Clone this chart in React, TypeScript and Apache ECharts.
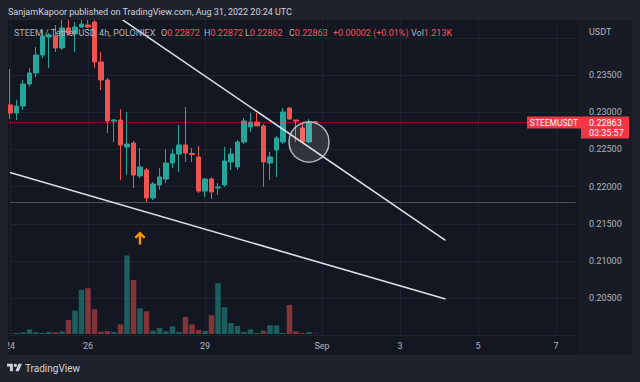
import React, { useEffect, useRef } from "react";
import * as echarts from "echarts";

// ---- data (4h candles, STEEM/USDT, from Aug 24 00:00) ----
const OPEN = [0.23097, 0.22989, 0.23083, 0.23379, 0.23527, 0.23769, 0.24011, 0.24024, 0.23863, 0.24132, 0.24051, 0.24145, 0.24172, 0.24212, 0.23675, 0.23433, 0.22882, 0.22895, 0.22532, 0.22586, 0.22143, 0.22223, 0.21847, 0.22022, 0.22102, 0.22317, 0.22438, 0.22559, 0.22445, 0.22398, 0.21941, 0.22102, 0.21981, 0.22022, 0.22331, 0.22264, 0.226, 0.22801, 0.22868, 0.22815, 0.22317, 0.22492, 0.226, 0.23057, 0.22895, 0.22788, 0.226, 0.22872];
const CLOSE = [0.22989, 0.23083, 0.23379, 0.23527, 0.23769, 0.24024, 0.24038, 0.23863, 0.24132, 0.24064, 0.24145, 0.24185, 0.24145, 0.23675, 0.23433, 0.22882, 0.22895, 0.22559, 0.22573, 0.22156, 0.22264, 0.21847, 0.22035, 0.22129, 0.22317, 0.22438, 0.22559, 0.22452, 0.22432, 0.21941, 0.22102, 0.21928, 0.21995, 0.22344, 0.22438, 0.226, 0.22882, 0.22868, 0.22815, 0.22331, 0.22398, 0.22653, 0.23003, 0.22909, 0.22882, 0.226, 0.22861, 0.22863];
const LOW = [0.22909, 0.22895, 0.2303, 0.23339, 0.23473, 0.23728, 0.23594, 0.23809, 0.23836, 0.24038, 0.23809, 0.24132, 0.24132, 0.23594, 0.23298, 0.2272, 0.226, 0.22089, 0.22156, 0.21981, 0.22116, 0.21793, 0.2182, 0.21954, 0.22049, 0.2225, 0.22196, 0.22331, 0.22331, 0.21914, 0.2186, 0.21833, 0.21887, 0.21995, 0.22223, 0.22223, 0.22573, 0.22734, 0.22815, 0.21995, 0.22089, 0.22129, 0.22573, 0.22895, 0.226, 0.22586, 0.22586, 0.22862];
const HIGH = [0.23581, 0.23164, 0.23433, 0.23594, 0.23876, 0.24105, 0.24064, 0.24172, 0.24239, 0.24239, 0.24212, 0.24239, 0.24239, 0.24239, 0.23809, 0.2346, 0.22909, 0.23043, 0.23003, 0.22613, 0.22519, 0.2225, 0.22062, 0.2225, 0.22506, 0.22506, 0.22828, 0.2307, 0.22519, 0.22546, 0.22116, 0.22129, 0.22049, 0.22532, 0.22519, 0.22626, 0.22922, 0.22989, 0.22989, 0.22841, 0.22465, 0.2268, 0.23057, 0.2307, 0.22895, 0.22855, 0.22909, 0.22872];
// volume in thousands
const VOLUME = [1, 3, 5, 14, 6, 3, 6, 5, 8, 42, 70, 132, 137, 74, 7, 9, 6, 29, 235, 162, 77, 68, 10, 18, 8, 23, 6, 51, 29, 12, 9, 56, 152, 80, 33, 24, 6, 14, 3, 10, 26, 26, 3, 87, 8, 3, 6, 1.213];

const SLOT_COUNT = 88; // 4h slots shown on the time axis (incl. future)
const TICK_INDEX = [0, 12, 30, 48, 60, 72, 84];
const TICK_TEXT = ["24", "26", "29", "Sep", "3", "5", "7"];

const SUPPORT_LEVEL = 0.21783;
// trend lines: [slot index, price]
const TREND_UPPER = [[17, 0.24262], [67, 0.21278]];
const TREND_LOWER = [[0, 0.2219], [67, 0.20488]];
const CIRCLE_AT = [46, 0.22599];
const ARROW_AT = [20, 0.21309];

const PRICE_TICKS_MIN = 0.195;
const PRICE_TICKS_MAX = 0.245;
const PRICE_STEP = 0.005;

const COUNTDOWN = "03:35:57";

const CATEGORIES: string[] = [];
{
  const start = Date.UTC(2022, 7, 24, 0, 0);
  for (let i = 0; i < SLOT_COUNT; i++) {
    const d = new Date(start + i * 4 * 3600 * 1000);
    CATEGORIES.push(d.toISOString().slice(0, 16));
  }
}

echarts.graphic.registerShape(
  "tvlogo",
  echarts.graphic.extendPath(
    "M14 22H7V11H0V4h14v18z M28 22h-8l7.5-18h8L28 22z M24 8a4 4 0 1 1-8 0a4 4 0 0 1 8 0z",
    {}
  )
);

const FONT = 'Roboto, "Noto Sans", "DejaVu Sans", sans-serif';
const GREEN = "#26a69a";
const RED = "#ef5350";
const LABEL_RED = "#f7525f";
const GRAY = "#b2b5be";
const FRAME = "#1e222d";
const PANE = "#131722";

export default function App() {
  const ref = useRef<HTMLDivElement>(null);
  useEffect(() => {
    document.body.style.margin = "0";
    if (!ref.current) return;
    const chart = echarts.init(ref.current, undefined, { renderer: "svg" });
    const n = OPEN.length;
    const last = n - 1;
    const change = CLOSE[last] - CLOSE[last - 1];
    const pct = (change / CLOSE[last - 1]) * 100;
    const sign = change >= 0 ? "+" : "";
    const candleData = OPEN.map((o, i) => [o, CLOSE[i], LOW[i], HIGH[i]]);
    const volData = VOLUME.map((v, i) => ({
      value: v,
      itemStyle: { color: CLOSE[i] >= OPEN[i] ? "rgba(38,166,154,0.5)" : "rgba(239,83,80,0.5)" },
    }));
    const isTick = (i: number) => TICK_INDEX.indexOf(i) >= 0;
    const txt = (x: number, y: number, text: string, fill: string, size: number, extra: any = {}) => ({
      type: "text",
      x,
      y,
      z: 101,
      silent: true,
      style: { text, fill, font: `${size}px ${FONT}`, verticalAlign: "middle", ...extra },
    });
    const LF = `9px ${FONT}`;
    const rich = (x: number, y: number, text: string) => ({
      type: "text",
      x,
      y,
      z: 101,
      silent: true,
      style: {
        text,
        font: LF,
        verticalAlign: "middle",
        rich: {
          g: { fill: GRAY, font: LF },
          r: { fill: LABEL_RED, font: LF },
        },
      },
    });
    const lastClose = CLOSE[last];
    const option: any = {
      animation: false,
      backgroundColor: PANE,
      textStyle: { fontFamily: FONT },
      grid: [
        { left: 10, top: 0.6, width: 565.5, height: 372 },
        { left: 10, top: 20, width: 565.5, height: 314 },
      ],
      xAxis: [
        { type: "category", gridIndex: 0, data: CATEGORIES, boundaryGap: false, show: false },
        {
          type: "category",
          gridIndex: 1,
          data: CATEGORIES,
          boundaryGap: false,
          axisLine: { show: false },
          axisTick: { show: false },
          axisLabel: {
            interval: (i: number) => isTick(i),
            formatter: (_v: string, i: number) => (isTick(i) ? TICK_TEXT[TICK_INDEX.indexOf(i)] : ""),
            color: GRAY,
            fontSize: 9,
            margin: 7,
          },
          splitLine: { show: true, interval: (i: number) => isTick(i), lineStyle: { color: "#1e2230", width: 1 } },
        },
      ],
      yAxis: [
        {
          type: "value",
          gridIndex: 0,
          position: "right",
          min: PRICE_TICKS_MIN,
          max: PRICE_TICKS_MAX,
          interval: PRICE_STEP,
          axisLine: { show: false },
          axisTick: { show: false },
          axisLabel: {
            color: GRAY,
            fontSize: 9,
            margin: 13.5,
            formatter: (v: number) => (v > 0.2049 && v < 0.2351 ? v.toFixed(5) : ""),
          },
          splitLine: { lineStyle: { color: "#1e2230", width: 1 } },
        },
        { type: "value", gridIndex: 1, min: 0, max: 940, show: false },
      ],
      series: [
        {
          type: "bar",
          xAxisIndex: 1,
          yAxisIndex: 1,
          data: volData,
          barWidth: 5.5,
          silent: true,
        },
        {
          type: "candlestick",
          xAxisIndex: 0,
          yAxisIndex: 0,
          data: candleData,
          barWidth: 5,
          itemStyle: { color: GREEN, color0: RED, borderColor: GREEN, borderColor0: RED, borderWidth: 1 },
          markLine: {
            silent: true,
            precision: 6,
            symbol: ["none", "none"],
            label: { show: false },
            data: [
              { yAxis: lastClose, lineStyle: { color: "rgba(242,54,69,0.55)", type: "dotted", width: 1 } },
              { yAxis: SUPPORT_LEVEL, lineStyle: { color: "#4c4f5a", type: "solid", width: 1 } },
              [
                { coord: [CATEGORIES[TREND_UPPER[0][0]], TREND_UPPER[0][1]], lineStyle: { color: "#dcdfe6", width: 1.6, type: "solid" } },
                { coord: [CATEGORIES[TREND_UPPER[1][0]], TREND_UPPER[1][1]] },
              ],
              [
                { coord: [CATEGORIES[TREND_LOWER[0][0]], TREND_LOWER[0][1]], lineStyle: { color: "#dcdfe6", width: 1.6, type: "solid" } },
                { coord: [CATEGORIES[TREND_LOWER[1][0]], TREND_LOWER[1][1]] },
              ],
            ],
          },
          markPoint: {
            silent: true,
            label: { show: false },
            data: [
              {
                coord: [CATEGORIES[CIRCLE_AT[0]], CIRCLE_AT[1]],
                symbol: "circle",
                symbolSize: 40,
                itemStyle: { color: "rgba(255,255,255,0.12)", borderColor: "rgba(205,205,212,0.85)", borderWidth: 1.5 },
              },
              {
                coord: [CATEGORIES[ARROW_AT[0]], ARROW_AT[1]],
                symbol: "path://M6,0 L12,6 L10.2,7.8 L7.3,4.9 L7.3,14 L4.7,14 L4.7,4.9 L1.8,7.8 L0,6 Z",
                symbolSize: [11, 13],
                itemStyle: { color: "#ff9800" },
              },
            ],
          },
        },
      ],
      graphic: [
        { type: "rect", z: -1, silent: true, shape: { x: 578, y: 20, width: 54, height: 335 }, style: { fill: "#171b26" } },
        // frame
        { type: "rect", z: 100, silent: true, shape: { x: 0, y: 0, width: 640, height: 20 }, style: { fill: FRAME } },
        { type: "rect", z: 100, silent: true, shape: { x: 0, y: 355, width: 640, height: 27 }, style: { fill: FRAME } },
        { type: "rect", z: 100, silent: true, shape: { x: 0, y: 0, width: 8, height: 382 }, style: { fill: FRAME } },
        { type: "rect", z: 100, silent: true, shape: { x: 632, y: 0, width: 8, height: 382 }, style: { fill: FRAME } },
        txt(8, 12, "SanjamKapoor published on TradingView.com, Aug 31, 2022 20:24 UTC", "#d1d4dc", 9),
        txt(14, 33, "STEEM / Tether USD, 4h, POLONIEX", GRAY, 9),
        rich(161, 33, `{g|O}{r|${OPEN[last].toFixed(5)}}`),
        rich(204, 33, `{g|H}{r|${HIGH[last].toFixed(5)}}`),
        rich(245, 33, `{g|L}{r|${LOW[last].toFixed(5)}}`),
        rich(289, 33, `{g|C}{r|${CLOSE[last].toFixed(5)}}`),
        rich(333, 33, `{r|${sign}${change.toFixed(5)} (${sign}${pct.toFixed(2)}%)}`),
        rich(411, 33, `{g|Vol}{r|${VOLUME[last].toFixed(3)}K}`),
        txt(589, 32, "USDT", GRAY, 9),
        // last price labels
        { type: "rect", z: 101, silent: true, shape: { x: 527, y: 116.5, width: 54, height: 12 }, style: { fill: "#f23645" } },
        txt(554, 122.5, "STEEMUSDT", "#ffffff", 8.5, { align: "center" }),
        { type: "rect", z: 101, silent: true, shape: { x: 581, y: 116.5, width: 48, height: 22 }, style: { fill: "#f23645" } },
        txt(589, 122.5, lastClose.toFixed(5), "#ffffff", 9),
        txt(589, 133, COUNTDOWN, "#ffffff", 9),
        // footer
        { type: "tvlogo", z: 101, silent: true, x: 7, y: 362, scaleX: 0.42, scaleY: 0.42, style: { fill: "#d1d4dc" } },
        txt(25, 368, "TradingView", "#d1d4dc", 10),
      ],
    };
    chart.setOption(option);
    return () => chart.dispose();
  }, []);
  return <div ref={ref} style={{ position: "fixed", left: 0, top: 0, width: 640, height: 382 }} />;
}
